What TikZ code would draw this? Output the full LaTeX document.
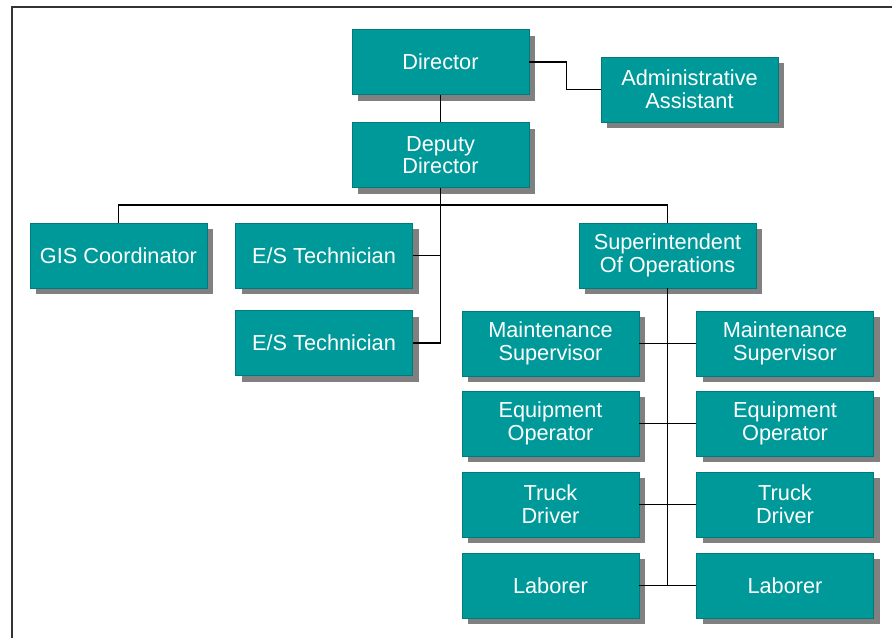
\documentclass[tikz,border=0pt]{standalone}
\usepackage{fontspec}
\setmainfont{Liberation Sans}
\usetikzlibrary{shadows}

\definecolor{postfill}{RGB}{0,153,153}
\definecolor{postedge}{RGB}{0,122,122}

\tikzset{
  post/.style={draw=postedge, fill=postfill, text=white, line width=0.5pt,
    minimum width=132.75pt, minimum height=48.75pt, inner sep=0pt, align=center,
    font=\fontsize{16.3}{17}\selectfont,
    drop shadow={shadow xshift=4.5pt, shadow yshift=-4.5pt, fill=black!50, opacity=1}},
  link/.style={line width=0.9pt, black}
}

\begin{document}
\begin{tikzpicture}[x=0.75pt, y=-0.75pt]

  \useasboundingbox (0,0) rectangle (892,637);
  \draw[line width=1.4pt, black!80] (12,640) -- (12,7) -- (895,7);

  \newcommand\LX{550.5};
  \newcommand\RX{785};

  \node[post] (director) at (440.5, 62) {Director};
  \node[post] (deputy) at (440.5, 155) {Deputy\\Director};
  \node[post] (admin) at (689.5, 89.5) {Administrative\\Assistant};

  \node[post] (gis) at (118.5, 255.5) {GIS Coordinator};
  \node[post] (techA) at (324, 255.5) {E/S Technician};
  \node[post] (techB) at (324, 343) {E/S Technician};
  \node[post] (super) at (667.5, 255.5) {Superintendent\\Of Operations};

  %% crews under the superintendent, two per row
  \foreach \n/\t/\y in {main/{Maintenance\\Supervisor}/343.5,
                        equip/{Equipment\\Operator}/423.5,
                        truck/{Truck\\Driver}/504.5,
                        lab/{Laborer}/585.5}{
    \node[post] (\n L) at (\LX, \y) {\t};
    \node[post] (\n R) at (\RX, \y) {\t};
  }

  \coordinate (bus) at (440.5, 205);

  \draw[link] (director.south) -- (deputy.north);
  \draw[link] (director.east) -- ++(37,0) |- (admin.west); %% director->assistant
  \draw[link] (deputy.south) -- (deputy.south |- techB.east);
  \draw[link] (techA.east) -- (techA.east -| deputy.south);
  \draw[link] (techB.east) -- (techB.east -| deputy.south);
  \draw[link] (gis.north) |- (bus) -| (super.north);
  \draw[link] (super.south) -- (super.south |- labL.east);
  \foreach \n in {main,equip,truck,lab}
    \draw[link] (\n L.east) -- (\n R.west);

\end{tikzpicture}
\end{document}
